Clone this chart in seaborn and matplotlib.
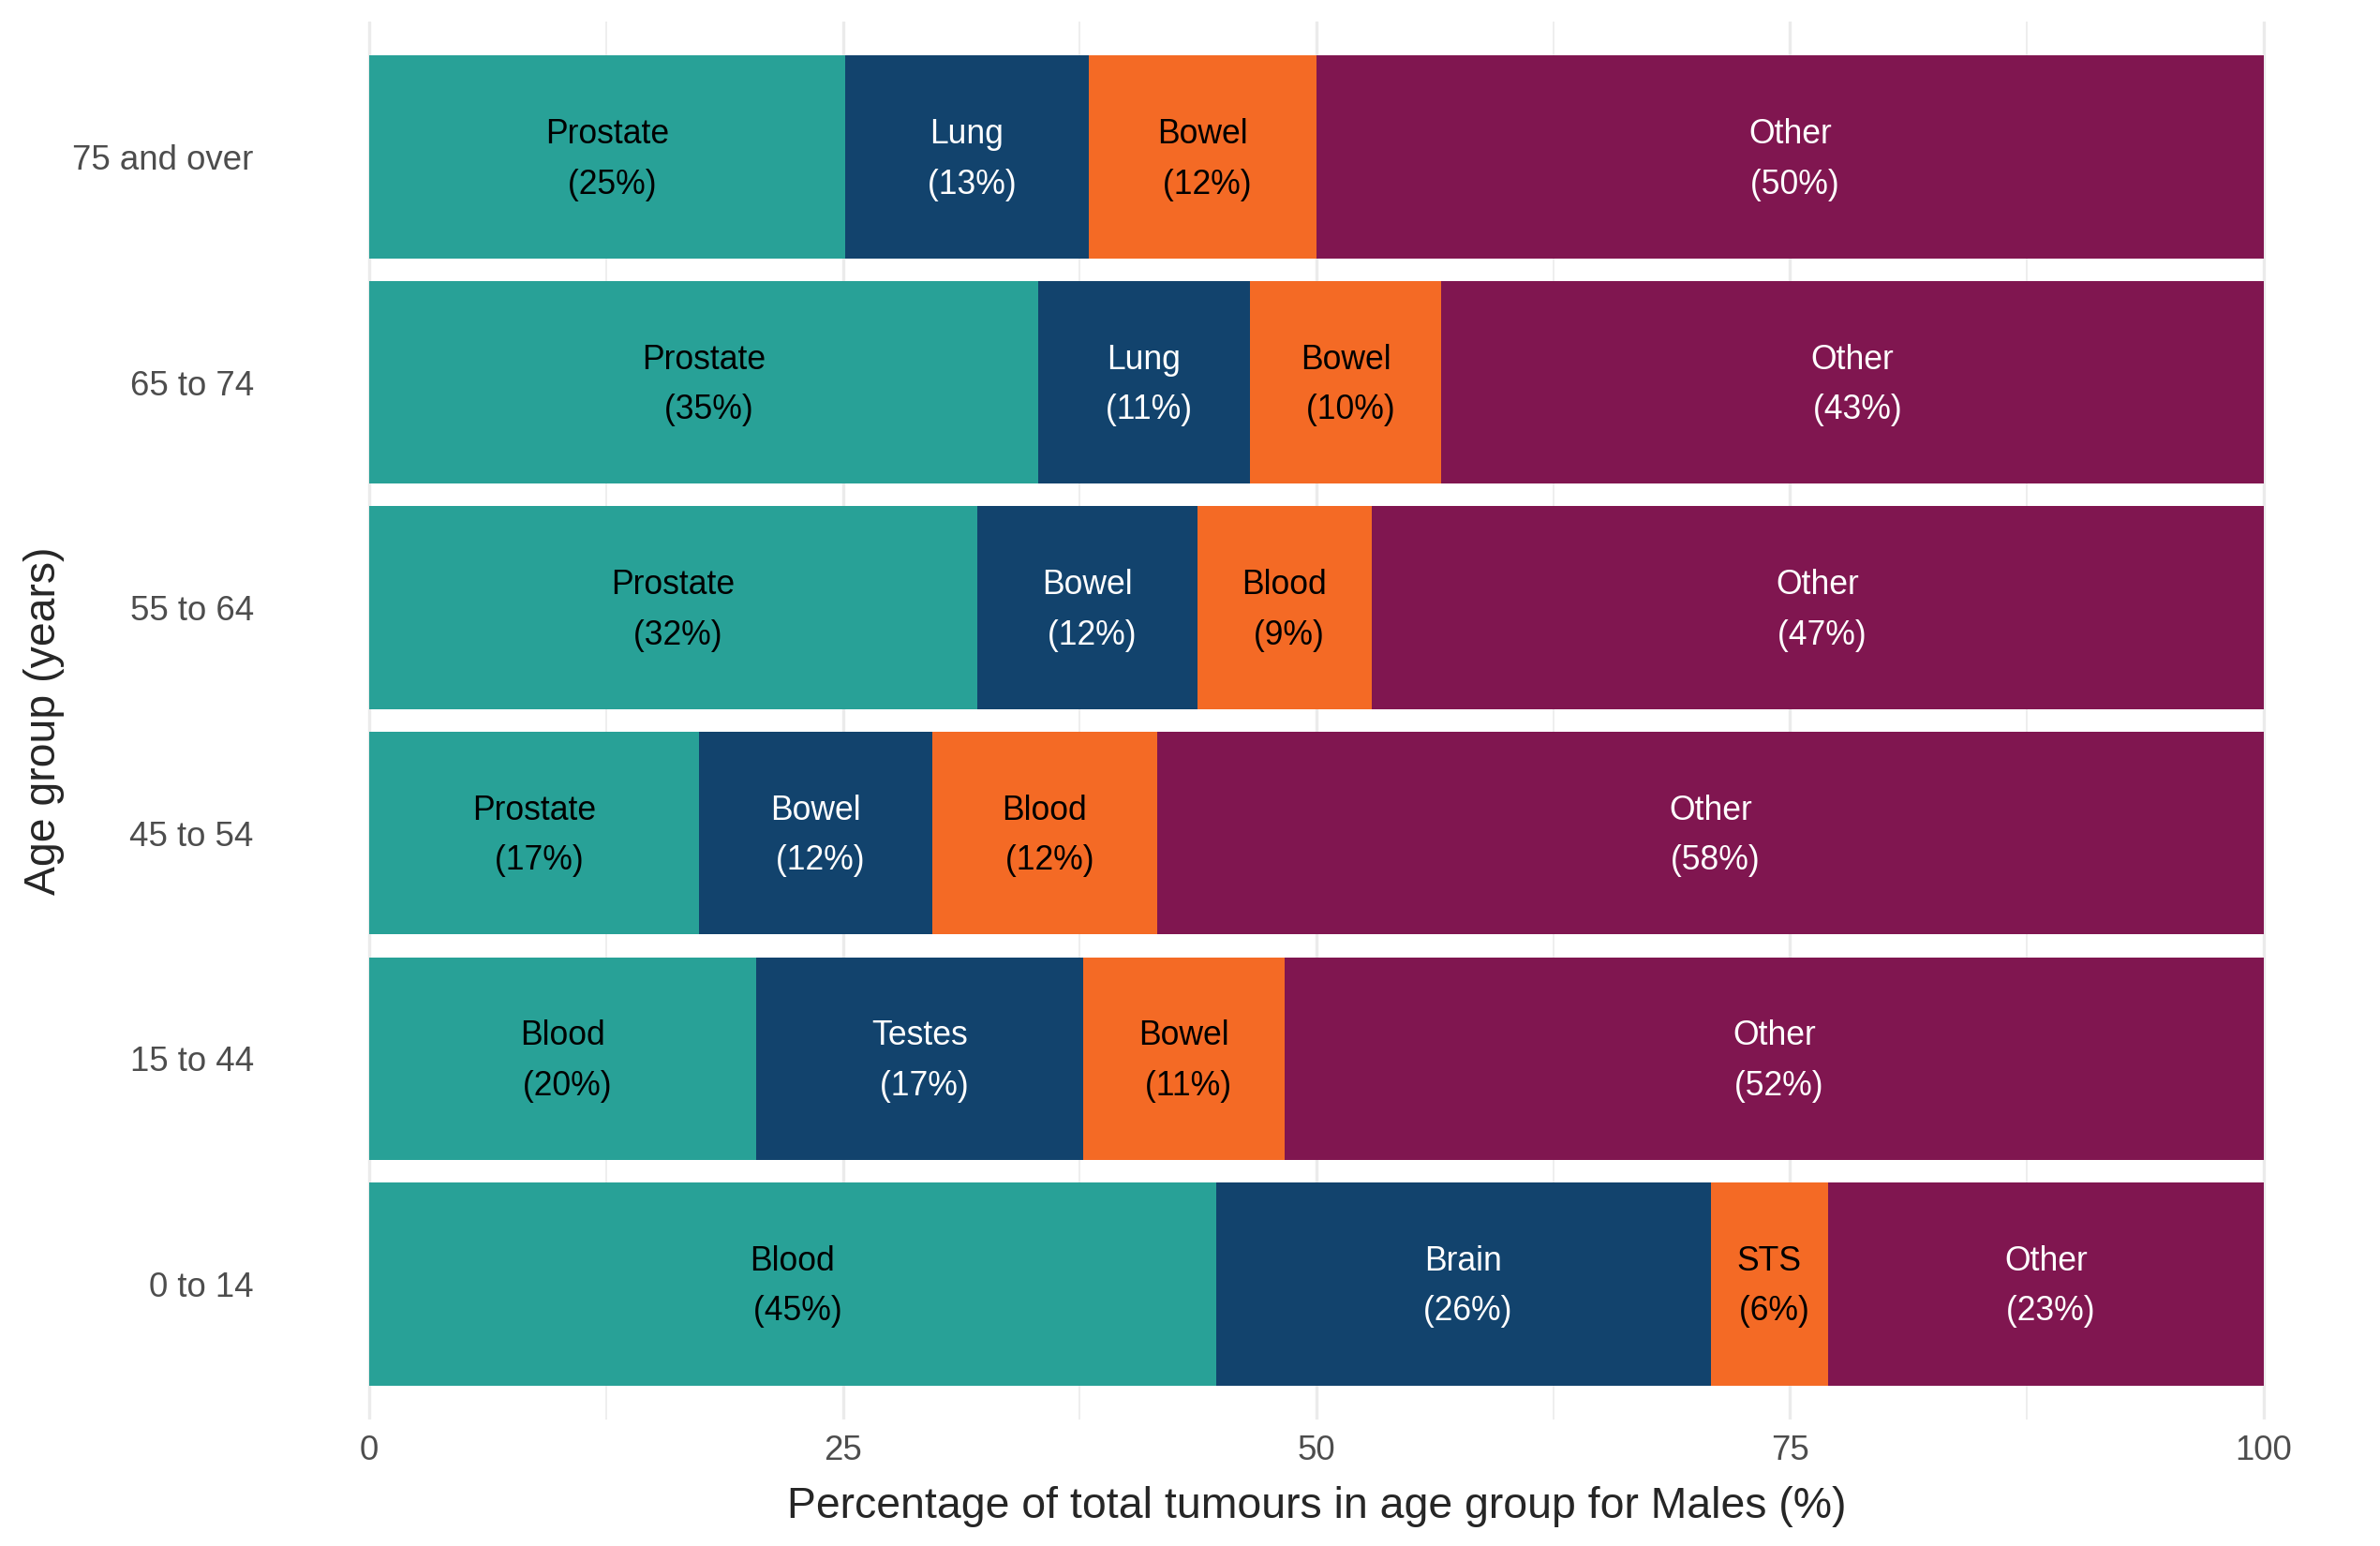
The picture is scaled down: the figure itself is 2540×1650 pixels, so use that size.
import numpy as np
import pandas as pd
import matplotlib
matplotlib.use("Agg")
import matplotlib.pyplot as plt
import seaborn as sns

# data (males, share of tumours by age group)
ages = ["75 and over", "65 to 74", "55 to 64", "45 to 54", "15 to 44", "0 to 14"]
names1 = ["Prostate", "Prostate", "Prostate", "Prostate", "Blood", "Blood"]
pct1 = [25.1, 35.3, 32.1, 17.4, 20.4, 44.7]
names2 = ["Lung", "Lung", "Bowel", "Bowel", "Testes", "Brain"]
pct2 = [12.9, 11.2, 11.6, 12.3, 17.3, 26.1]
names3 = ["Bowel", "Bowel", "Blood", "Blood", "Bowel", "STS"]
pct3 = [12.0, 10.1, 9.2, 11.9, 10.6, 6.2]
pct_other = [100 - a - b - c for a, b, c in zip(pct1, pct2, pct3)]

colours = ["#28A197", "#12436D", "#F46A25", "#801650"]
text_cols = ["black", "white", "black", "white"]

df = pd.DataFrame({"age": ages, "p1": pct1, "p2": pct2, "p3": pct3, "p4": pct_other})
df["c1"] = df["p1"]
df["c2"] = df["c1"] + df["p2"]
df["c3"] = df["c2"] + df["p3"]
df["c4"] = df["c3"] + df["p4"]

sns.set_style("white")
plt.rcParams["font.family"] = ["Liberation Sans", "DejaVu Sans"]

fig = plt.figure(figsize=(12.7, 8.25), dpi=200)
ax = fig.add_axes([293 / 2540, 0.082, (2517 - 293) / 2540, 0.904])

# stacked bars: draw cumulative totals from widest to narrowest
for i in [4, 3, 2, 1]:
    sns.barplot(data=df, x="c%d" % i, y="age", order=ages, color=colours[i - 1],
                width=0.9, saturation=1, linewidth=0, ax=ax, zorder=2)

seg_names = [names1, names2, names3, ["Other"] * len(ages)]
for i in range(4):
    vals = df["p%d" % (i + 1)].values
    ends = df["c%d" % (i + 1)].values
    for j in range(len(ages)):
        ax.text(ends[j] - vals[j] / 2, j + 0.012, "%s\n (%.0f%%)" % (seg_names[i][j], vals[j]),
                ha="center", va="center", fontsize=12.8, color=text_cols[i],
                linespacing=1.68, zorder=3)

ax.set_xlim(-5, 105)
ax.set_ylim(len(ages) - 0.4, -0.6)
ax.set_xticks([0, 25, 50, 75, 100])
ax.set_xticks([12.5, 37.5, 62.5, 87.5], minor=True)
ax.grid(axis="x", which="major", color="#EBEBEB", linewidth=1.2, zorder=0)
ax.grid(axis="x", which="minor", color="#EBEBEB", linewidth=0.6, zorder=0)
ax.grid(axis="y", visible=False)
ax.set_axisbelow(True)
sns.despine(ax=ax, left=True, bottom=True)
ax.tick_params(axis="both", which="both", length=0, labelsize=13.2, labelcolor="#4D4D4D")
ax.tick_params(axis="y", pad=8)
ax.tick_params(axis="x", pad=6)

ax.set_xlabel("Percentage of total tumours in age group for Males (%)", fontsize=16.7, labelpad=7)
ax.set_ylabel("Age group (years)", fontsize=16.7, labelpad=3)

fig.savefig("out.png", dpi=200)
